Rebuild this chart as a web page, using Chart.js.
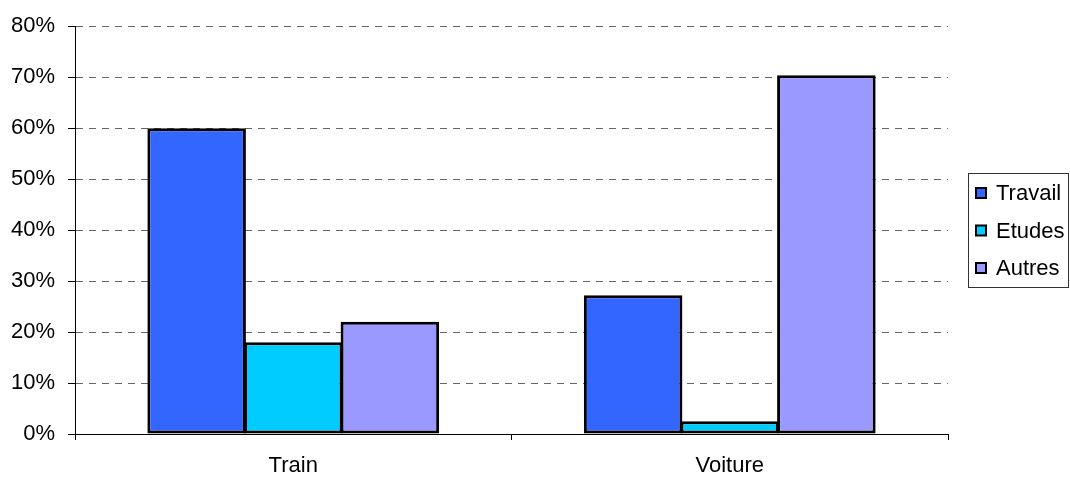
<!DOCTYPE html>
<html>
<head>
<meta charset="utf-8">
<script src="https://cdn.jsdelivr.net/npm/chart.js@4/dist/chart.umd.min.js"></script>
<style>
  html, body { margin: 0; padding: 0; background: #fff; }
  #wrap { width: 1070px; height: 478px; }
</style>
</head>
<body>
<div id="wrap"><canvas id="chart" width="1070" height="478"></canvas></div>
<script>
// Données du graphique
const categories = ["Train", "Voiture"];
const seriesNames = ["Travail", "Etudes", "Autres"];
const travail = [60, 27.2];
const etudes = [18, 2.5];
const autres = [22, 70.4];
const seriesColors = ["#3366FF", "#00CCFF", "#9999FF"];
const yMax = 80;
const yStep = 10;

const FONT = "'Liberation Sans', Arial, sans-serif";

// Légende encadrée, dessinée à droite
const boxedLegend = {
    id: "boxedLegend",
    afterDraw(chart) {
        const ctx = chart.ctx;
        const x = 968, y = 173, w = 100, h = 114;
        ctx.save();
        ctx.strokeStyle = "#333";
        ctx.lineWidth = 1;
        ctx.strokeRect(x + 0.5, y + 0.5, w, h);
        ctx.font = "22px " + FONT;
        ctx.textBaseline = "middle";
        chart.data.datasets.forEach((ds, i) => {
            const cy = y + 20 + i * 37.5;
            ctx.fillStyle = ds.backgroundColor;
            ctx.fillRect(976, cy - 5, 10, 10);
            ctx.strokeStyle = "#000";
            ctx.lineWidth = 2;
            ctx.strokeRect(976, cy - 5, 10, 10);
            ctx.fillStyle = "#000";
            ctx.fillText(ds.label, 996, cy + 1);
        });
        ctx.restore();
    },
};

const datasets = [travail, etudes, autres].map((values, i) => ({
    label: seriesNames[i],
    data: values,
    backgroundColor: seriesColors[i],
    borderColor: "#000",
    borderWidth: 3,
    borderSkipped: false,
    barPercentage: 1.02,
    categoryPercentage: 0.664,
}));

new Chart(document.getElementById("chart"), {
    type: "bar",
    data: { labels: categories, datasets: datasets },
    plugins: [boxedLegend],
    options: {
        responsive: false,
        animation: false,
        devicePixelRatio: 1,
        layout: { padding: { left: 0, right: 122, top: 25, bottom: 0 } },
        plugins: {
            legend: { display: false },
            tooltip: { enabled: false },
        },
        scales: {
            x: {
                offset: true,
                grid: {
                    offset: true,
                    drawOnChartArea: false,
                    drawTicks: true,
                    tickLength: 6,
                    tickColor: "#000",
                },
                border: { display: true, color: "#000", width: 1 },
                ticks: { color: "#000", font: { family: FONT, size: 22 }, padding: 13 },
                afterFit: (s) => { s.height = 44; },
            },
            y: {
                min: 0,
                max: yMax,
                ticks: {
                    stepSize: yStep,
                    color: "#000",
                    font: { family: FONT, size: 22 },
                    padding: 13,
                    callback: (v) => v + "%",
                },
                grid: {
                    color: (c) => (c.tick && c.tick.value === 0 ? "rgba(0,0,0,0)" : "#666"),
                    lineWidth: 1,
                    tickLength: 7,
                    tickColor: "#000",
                },
                border: { display: true, color: "#000", width: 1, dash: [7, 6] },
                afterFit: (s) => { s.width = 75; },
            },
        },
    },
});
</script>
</body>
</html>
